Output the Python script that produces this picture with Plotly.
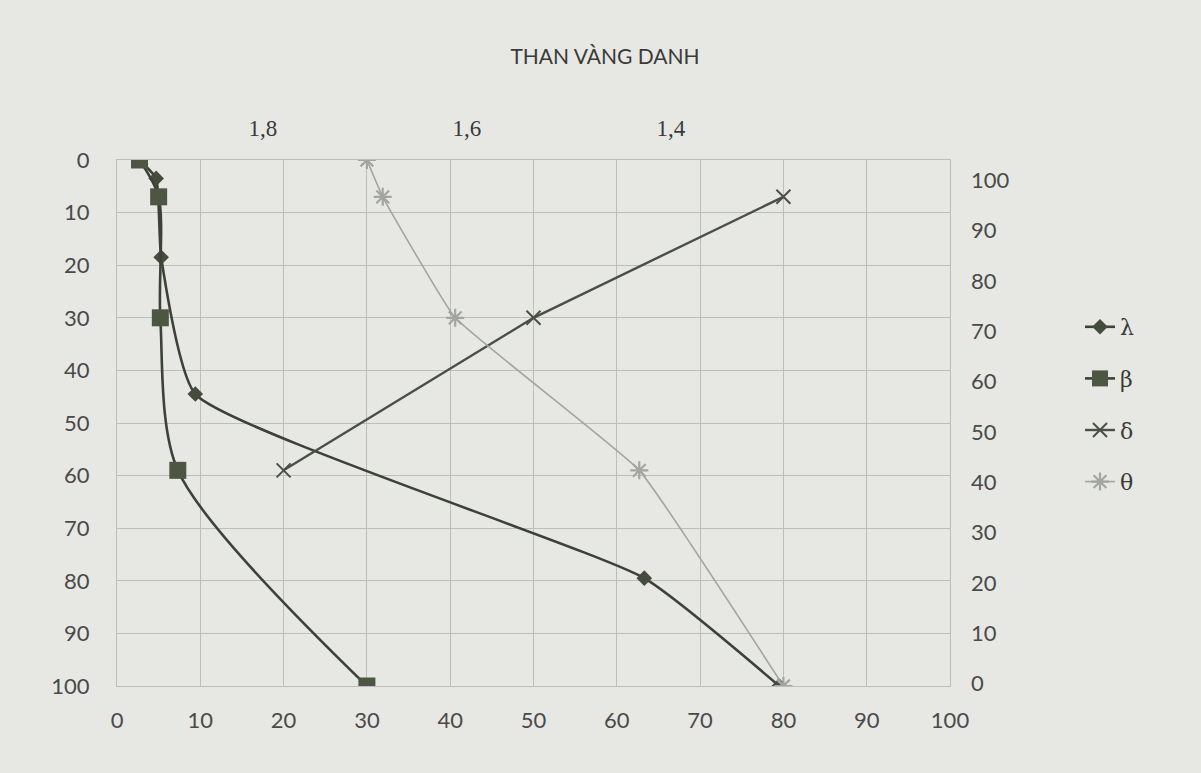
import plotly.graph_objects as go

# ---- data ----
float_yield = [0, 7, 30, 59, 100]          # cumulative float yield, %
beta_ash = [2.7, 5.0, 5.2, 7.3, 30.0]       # cumulative float ash, %
lambda_yield = [0, 3.5, 18.5, 44.5, 79.5, 100]
lambda_ash = [2.7, 4.7, 5.3, 9.4, 63.3, 79.5]
theta_ash = [30.0, 31.9, 40.6, 62.7, 80.0]  # cumulative sink ash, %
delta_x = [20, 50, 80]
delta_yield = [59, 30, 7]

bottom_ticks = list(range(0, 101, 10))
left_ticks = list(range(0, 101, 10))
right_ticks = list(range(0, 101, 10))
density_ticks = [1.8, 1.6, 1.4]
density_labels = ["1,8", "1,6", "1,4"]

title_text = "THAN VÀNG DANH"

BG = "#e7e8e4"
DARK = "#3c4237"
GRID = "#bdbeba"
TXT = "#4a4a48"

fig = go.Figure()

fig.add_trace(go.Scatter(
    x=lambda_ash, y=lambda_yield, name="λ", legendgroup="a",
    mode="lines+markers", line=dict(color=DARK, width=2.6, shape="spline", smoothing=0.45),
    marker=dict(symbol="diamond", size=12, color="#454c3e"),
))
fig.add_trace(go.Scatter(
    x=beta_ash, y=float_yield, name="β", legendgroup="b",
    mode="lines+markers", line=dict(color=DARK, width=2.6, shape="spline", smoothing=0.8),
    marker=dict(symbol="square", size=17, color="#4d5543"),
))
fig.add_trace(go.Scatter(
    x=delta_x, y=delta_yield, name="δ", legendgroup="c",
    mode="lines+markers", line=dict(color="#4a5046", width=2.4),
    marker=dict(symbol="x-thin-open", size=14, color="#4a5046", line=dict(width=2, color="#4a5046")),
))
fig.add_trace(go.Scatter(
    x=theta_ash, y=float_yield, name="θ", legendgroup="d",
    mode="lines+markers", line=dict(color="#a3a5a1", width=1.6, shape="spline", smoothing=0.3),
    marker=dict(symbol="asterisk-open", size=15, color="#a3a5a1", line=dict(width=2.2, color="#a3a5a1")),
))

# invisible traces so the secondary axes are drawn
fig.add_trace(go.Scatter(x=[None], y=[None], xaxis="x2", yaxis="y", showlegend=False, hoverinfo="skip"))
fig.add_trace(go.Scatter(x=[None], y=[None], xaxis="x", yaxis="y2", showlegend=False, hoverinfo="skip"))

tickfont = dict(family="Lato, Noto Sans, sans-serif", size=22, color=TXT)

fig.update_layout(
    width=1201, height=773,
    margin=dict(l=117, r=251, t=160, b=87, autoexpand=False),
    paper_bgcolor=BG, plot_bgcolor=BG,
    title=dict(text=title_text, x=605 / 1201, xref="container", xanchor="center",
               y=1 - 57 / 773, yref="container", yanchor="middle",
               font=dict(family="Lato, Noto Sans, sans-serif", size=21, color="#3a3a38")),
    xaxis=dict(range=[0, 100], tickvals=bottom_ticks, showgrid=True, gridcolor=GRID, gridwidth=1,
               zeroline=False, showline=True, linecolor=GRID, mirror=True, ticks="",
               ticklabelstandoff=15, tickfont=tickfont),
    xaxis2=dict(overlaying="x", side="top", range=[1.943, 1.1265], tickvals=density_ticks,
                ticktext=density_labels, showgrid=False, zeroline=False, showline=False, ticks="",
                ticklabelstandoff=18,
                tickfont=dict(family="Liberation Serif, DejaVu Serif, serif", size=23, color="#3a3a38")),
    yaxis=dict(range=[100, 0], tickvals=left_ticks, showgrid=True, gridcolor=GRID, gridwidth=1,
               zeroline=False, showline=True, linecolor=GRID, mirror=True, ticks="",
               ticklabelstandoff=22, tickfont=tickfont),
    yaxis2=dict(overlaying="y", side="right", range=[-0.5, 104], tickvals=right_ticks,
                showgrid=False, zeroline=False, showline=False, ticks="",
                ticklabelstandoff=20, tickfont=tickfont),
    legend=dict(x=1080 / 1201, xref="container", xanchor="left",
                y=1 - 306 / 773, yref="container", yanchor="top",
                bgcolor="rgba(0,0,0,0)", tracegroupgap=20,
                font=dict(family="DejaVu Serif, serif", size=22, color="#3a3a38")),
    showlegend=True,
)

fig.write_html(
    "out.html",
    config={"displayModeBar": False},
    post_script="document.body.style.margin='0';document.body.style.background='#e7e8e4';",
)
